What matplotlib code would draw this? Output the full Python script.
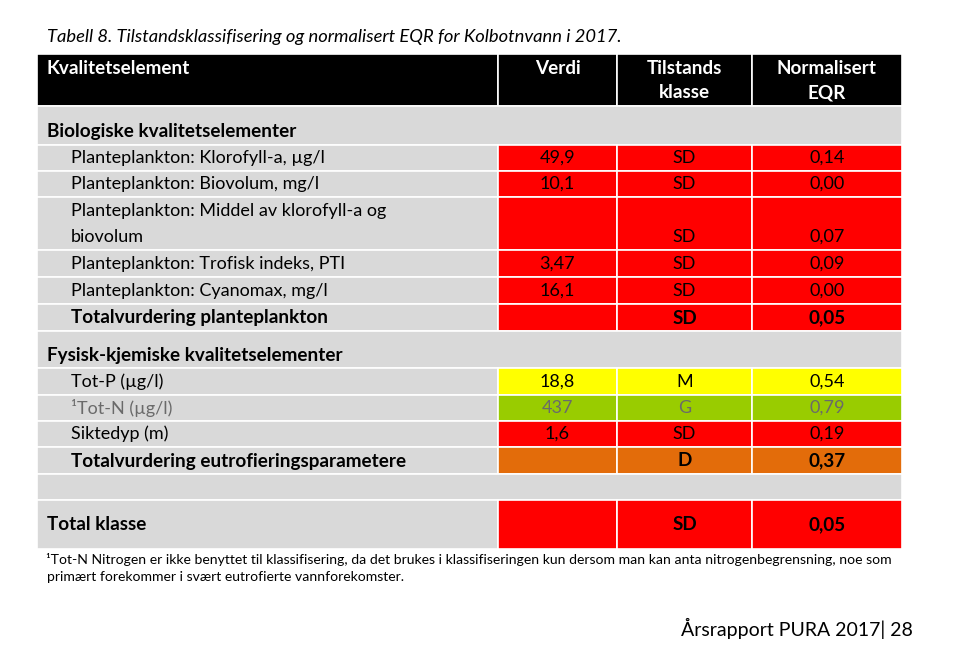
import matplotlib
matplotlib.use("Agg")
import matplotlib.pyplot as plt
from matplotlib.patches import Rectangle

plt.rcParams['font.family'] = ['Lato', 'DejaVu Sans']

title = "Tabell 8. Tilstandsklassifisering og normalisert EQR for Kolbotnvann i 2017."
header = ["Kvalitetselement", "Verdi", "Tilstands\nklasse", "Normalisert\nEQR"]

bio_title = "Biologiske kvalitetselementer"
bio_labels = ["Planteplankton: Klorofyll-a, µg/l",
              "Planteplankton: Biovolum, mg/l",
              "Planteplankton: Middel av klorofyll-a og\nbiovolum",
              "Planteplankton: Trofisk indeks, PTI",
              "Planteplankton: Cyanomax, mg/l",
              "Totalvurdering planteplankton"]
bio_verdi = ["49,9", "10,1", "", "3,47", "16,1", ""]
bio_klasse = ["SD", "SD", "SD", "SD", "SD", "SD"]
bio_eqr = ["0,14", "0,00", "0,07", "0,09", "0,00", "0,05"]

fys_title = "Fysisk-kjemiske kvalitetselementer"
fys_labels = ["Tot-P (µg/l)", "¹Tot-N (µg/l)", "Siktedyp (m)",
              "Totalvurdering eutrofieringsparametere"]
fys_verdi = ["18,8", "437", "1,6", ""]
fys_klasse = ["M", "G", "SD", "D"]
fys_eqr = ["0,54", "0,79", "0,19", "0,37"]

total_label = "Total klasse"
total_klasse = "SD"
total_eqr = "0,05"

footnote = ["¹Tot-N Nitrogen er ikke benyttet til klassifisering, da det brukes i klassifiseringen kun dersom man kan anta nitrogenbegrensning, noe som",
            "primært forekommer i svært eutrofierte vannforekomster."]
page_label = "Årsrapport PURA 2017| 28"

class_colors = {"SD": "#ff0000", "D": "#e36c0a", "M": "#ffff00", "G": "#99cc00"}
grey = "#d9d9d9"

# table layout (pixels)
col_x = [37, 498, 617, 752, 902]
bio_h = [26, 26, 53, 27, 27, 27]
fys_h = [27, 26, 26, 27]
W, H = 977, 663

fig = plt.figure(figsize=(W / 100, H / 100), dpi=100)
ax = fig.add_axes([0, 0, 1, 1])
ax.set_xlim(0, W)
ax.set_ylim(H, 0)
ax.axis("off")

fs = 13
fsb = 13.6

ax.text(47, 37, title, fontsize=13.2, style="italic", va="center", ha="left")

def cell(x0, x1, y0, y1, color):
    ax.add_patch(Rectangle((x0, y0), x1 - x0, y1 - y0, facecolor=color, edgecolor="white", lw=1.2))

def centers(i):
    return (col_x[i] + col_x[i + 1]) / 2

# header
y = 54
for i in range(4):
    cell(col_x[i], col_x[i + 1], y, y + 52, "black")
ax.text(47, y + 14, header[0], color="white", fontsize=fsb, weight="bold", va="center")
for i in range(1, 4):
    for j, line in enumerate(header[i].split("\n")):
        ax.text(centers(i), y + 14 + 25 * j, line, color="white", fontsize=fsb, weight="bold",
                va="center", ha="center")
y += 52

def section(title_text, h):
    global y
    cell(col_x[0], col_x[4], y, y + h, grey)
    if title_text:
        ax.text(47, y + h - 13, title_text, fontsize=fsb, weight="bold", va="center")
    y += h

def rows(labels, heights, verdi, klasse, eqr):
    global y
    for k, lab in enumerate(labels):
        lines = lab.split("\n")
        h = heights[k]
        bold = lab.startswith("Totalvurdering")
        tc = "#6a6a6a" if klasse[k] == "G" else "black"
        cell(col_x[0], col_x[1], y, y + h, grey)
        for i in range(1, 4):
            cell(col_x[i], col_x[i + 1], y, y + h, class_colors[klasse[k]])
        bot = y + h - 13
        for j, line in enumerate(lines):
            ax.text(71, bot - 26 * (len(lines) - 1 - j), line, fontsize=fsb if bold else fs,
                    va="center", weight="bold" if bold else "normal", color=tc)
        for i, v in zip(range(1, 4), [verdi[k], klasse[k], eqr[k]]):
            ax.text(centers(i), bot, v, fontsize=fsb if bold else fs, va="center", ha="center",
                    color=tc, weight="bold" if bold and i > 1 else "normal")
        y += h

section(bio_title, 39)
rows(bio_labels, bio_h, bio_verdi, bio_klasse, bio_eqr)
section(fys_title, 37)
rows(fys_labels, fys_h, fys_verdi, fys_klasse, fys_eqr)
section("", 26)

# total row
h = 49
cell(col_x[0], col_x[1], y, y + h, grey)
for i in range(1, 4):
    cell(col_x[i], col_x[i + 1], y, y + h, class_colors[total_klasse])
ax.text(47, y + h / 2, total_label, fontsize=fsb, weight="bold", va="center")
ax.text(centers(2), y + h / 2, total_klasse, fontsize=fsb, weight="bold", va="center", ha="center")
ax.text(centers(3), y + h / 2, total_eqr, fontsize=fsb, weight="bold", va="center", ha="center")

ax.text(46, 560, footnote[0], fontsize=10.1, va="center", ha="left")
ax.text(47, 577, footnote[1], fontsize=10.1, va="center", ha="left")
ax.text(913, 628, page_label, fontsize=14, va="center", ha="right")

fig.savefig("out.png", dpi=100)
